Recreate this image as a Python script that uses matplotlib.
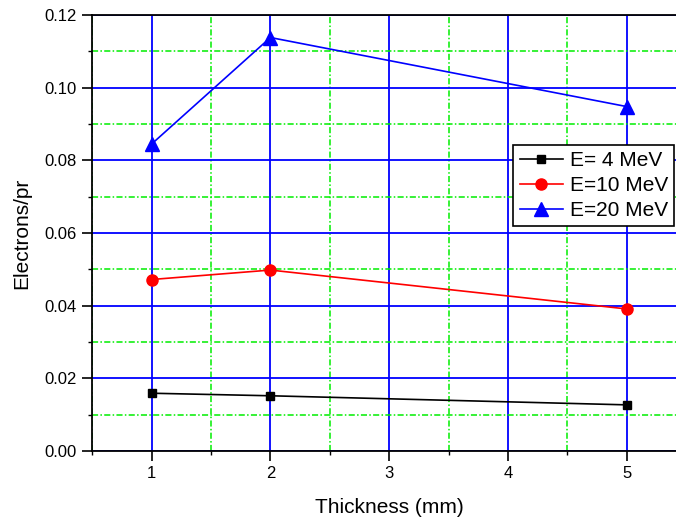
import matplotlib
matplotlib.use("Agg")
import matplotlib.pyplot as plt
from matplotlib.ticker import MultipleLocator

plt.rcParams['font.family'] = ['Liberation Sans', 'DejaVu Sans']

thickness = [1, 2, 5]
e4 = [0.0159, 0.0152, 0.0127]
e10 = [0.0472, 0.0498, 0.0391]
e20 = [0.0845, 0.1138, 0.0948]
labels = ['E= 4 MeV', 'E=10 MeV', 'E=20 MeV']

fig = plt.figure(figsize=(6.76, 5.2), dpi=100)
ax = fig.add_axes([92.3/676, 69/520, (686-92.3)/676, (451-15)/520])

ax.plot(thickness, e4, color='black', lw=1.2, marker='s', ms=6,
        mfc='black', mec='black', label=labels[0], zorder=5)
ax.plot(thickness, e10, color='red', lw=1.2, marker='o', ms=8,
        mfc='red', mec='red', label=labels[1], zorder=5)
ax.plot(thickness, e20, color='blue', lw=1.2, marker='^', ms=10,
        mfc='blue', mec='blue', label=labels[2], zorder=5)

ax.set_xlim(0.5, 5.5)
ax.set_ylim(0, 0.12)
ax.xaxis.set_major_locator(MultipleLocator(1))
ax.xaxis.set_minor_locator(MultipleLocator(0.5))
ax.yaxis.set_major_locator(MultipleLocator(0.02))
ax.yaxis.set_minor_locator(MultipleLocator(0.01))
ax.yaxis.set_major_formatter(plt.FormatStrFormatter('%.2f'))

ax.grid(which='major', color='blue', lw=1.3, ls='-')
ax.grid(which='minor', color='#00ee00', lw=1.1, ls=(0, (4, 1.5, 1, 1.5)))
ax.set_axisbelow(True)

ax.tick_params(which='major', direction='out', length=7, width=1.2, labelsize=12,
               pad=4, top=False, right=False)
ax.tick_params(which='minor', direction='out', length=3, width=1.0,
               top=False, right=False)
for s in ax.spines.values():
    s.set_linewidth(1.3)

ax.set_xlabel('Thickness (mm)', fontsize=15, labelpad=12)
ax.set_ylabel('Electrons/pr', fontsize=15, labelpad=10)

leg = ax.legend(loc='upper right', bbox_to_anchor=(674/676, 1-145/520),
                bbox_transform=fig.transFigure, fontsize=15, frameon=True,
                fancybox=False, edgecolor='black', framealpha=1,
                borderaxespad=0, borderpad=0.3, labelspacing=0.28,
                handlelength=2.1, handletextpad=0.3)
leg.get_frame().set_linewidth(1.2)

fig.savefig('out.png', dpi=100)
